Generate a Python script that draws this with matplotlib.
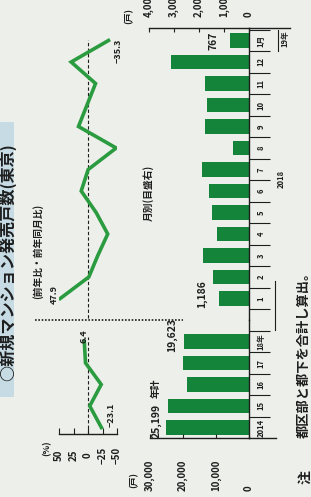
import matplotlib.pyplot as plt
from matplotlib.lines import Line2D
from matplotlib.patches import Rectangle
from matplotlib.transforms import blended_transform_factory

plt.rcParams['font.family'] = ['Noto Sans CJK JP', 'DejaVu Sans']
plt.rcParams['font.weight'] = 'bold'

W, H = 311, 497
GREEN = '#13843a'
LINE = '#2b9b40'
INK = '#1e1e1e'
PAPER = '#edefea'

# 年計(戸)と前年比(%)
years = ['2014', '15', '16', '17', '18年']
year_units = [25199, 24450, 18880, 19900, 19623]
year_pct = [-23.1, -3.0, -22.8, 4.3, 6.4]
# 月別(戸)と前年同月比(%)
months = ['1', '2', '3', '4', '5', '6', '7', '8', '9', '10', '11', '12', '1月']
month_units = [1186, 1450, 1830, 1290, 1470, 1590, 1870, 650, 1760, 1670, 1760, 3130, 767]
month_pct = [47.9, -1.4, -16.9, -34.0, -14.0, 11.7, -0.3, -48.6, 16.4, 1.7, -13.0, 29.0, -35.3]

year_ticks = [0, 10000, 20000, 30000]
month_ticks = [0, 1000, 2000, 3000, 4000]
pct_ticks = [50, 25, 0, -25, -50]

fig = plt.figure(figsize=(W / 100, H / 100), dpi=100)
fig.patch.set_facecolor(PAPER)


def fx(px):
    return px / W


def fy(py):
    return 1 - py / H


def slot(py):
    # the chart is printed turned on its side: 2014 sits on row 427.5, one slot every 21.5 px upward
    return (427.5 - py) / 21.5


def panel(x0, x1, top, bottom):
    ax = fig.add_axes([fx(x0), fy(bottom), (x1 - x0) / W, (bottom - top) / H])
    ax.set_facecolor('none')
    for s in ax.spines.values():
        s.set_visible(False)
        s.set_color(INK)
        s.set_linewidth(1.0)
    ax.set_xticks([])
    ax.set_yticks([])
    return ax


def vtext(px, py, s, size, **kw):
    fig.text(fx(px), fy(py), s, rotation=90, ha='center', va='center',
             size=size, color=INK, **kw)


yslots = list(range(len(years)))
mslots = [len(years) + 1 + i for i in range(len(months))]

# ---- annual bars
ax_y = panel(150, 249, 320, 438)
ax_y.set_xlim(30000, 0)
ax_y.set_ylim(slot(438), slot(320))
ax_y.barh(yslots, year_units, height=0.69, color=GREEN)
ax_y.spines['right'].set_visible(True)
ax_y.spines['bottom'].set_visible(True)
ax_y.set_xticks(year_ticks)
ax_y.tick_params(axis='x', direction='in', length=3, width=0.8, color=INK, labelbottom=False)
ax_y.plot([1, 1.27], [0, 0], transform=ax_y.transAxes, color=INK, lw=1.0, clip_on=False)
tr = blended_transform_factory(ax_y.transData, fig.transFigure)
for v in year_ticks:
    ax_y.text(v, fy(491), f'{v:,}', transform=tr, rotation=90, ha='center', va='bottom',
              size=7, color=INK)
ty = ax_y.get_yaxis_transform()
ax_y.hlines([s + 0.5 for s in yslots], 1, 1.21, transform=ty, color=INK, lw=0.8, clip_on=False)
for s, lab in zip(yslots, years):
    ax_y.text(1.12, s, lab, transform=ty, rotation=90, ha='center', va='center', size=5.5, color=INK)
ax_y.annotate(f'{year_units[0]:,}', (year_units[0], yslots[0]), xytext=(-9, 6.5),
              textcoords='offset pixels', rotation=90, ha='center', va='center', size=7.5, color=INK)
ax_y.annotate(f'{year_units[-1]:,}', (year_units[-1], yslots[-1]), xytext=(-12, 6.5),
              textcoords='offset pixels', rotation=90, ha='center', va='center', size=7.5, color=INK)

# ---- monthly bars (right scale, printed on top)
ax_m = panel(149, 249, 28, 320)
ax_m.set_xlim(4000, 0)
ax_m.set_ylim(slot(320), slot(28))
ax_m.barh(mslots, month_units, height=0.69, color=GREEN)
ax_m.spines['right'].set_visible(True)
ax_m.spines['top'].set_visible(True)
ax_m.set_xticks(month_ticks)
ax_m.tick_params(axis='x', direction='in', length=3, width=0.8, color=INK,
                 top=True, bottom=False, labelbottom=False)
ax_m.plot([1, 1.41], [1, 1], transform=ax_m.transAxes, color=INK, lw=1.0, clip_on=False)
trm = blended_transform_factory(ax_m.transData, fig.transFigure)
for v in month_ticks:
    ax_m.text(v, fy(17), f'{v:,}', transform=trm, rotation=90, ha='center', va='bottom',
              size=7, color=INK)
tm = ax_m.get_yaxis_transform()
ax_m.hlines([s - 0.5 for s in mslots] + [mslots[-1] + 0.5], 1, 1.21, transform=tm,
            color=INK, lw=0.8, clip_on=False)
for s, lab in zip(mslots, months):
    ax_m.text(1.12, s, lab, transform=tm, rotation=90, ha='center', va='center', size=5.5, color=INK)
ax_m.plot([1.29, 1.29], [mslots[-1] - 0.5, mslots[-1] + 0.5], transform=tm, color=INK,
          lw=0.8, clip_on=False)
ax_m.plot([1.26, 1.26], [slot(330), mslots[0] - 0.5 + 1.3], transform=tm, color=INK,
          lw=0.8, clip_on=False)
ax_m.annotate(f'{month_units[0]:,}', (month_units[0], mslots[0]), xytext=(-17, 4.5),
              textcoords='offset pixels', rotation=90, ha='center', va='center', size=7.5, color=INK)
ax_m.annotate(f'{month_units[-1]:,}', (month_units[-1], mslots[-1]), xytext=(-16, 0),
              textcoords='offset pixels', rotation=90, ha='center', va='center', size=7.5, color=INK)

# ---- change rates
ax_yp = panel(59, 117, 320, 434)
ax_yp.set_xlim(50, -50)
ax_yp.set_ylim(slot(434), slot(320))
ax_yp.spines['bottom'].set_visible(True)
ax_yp.set_xticks(pct_ticks)
ax_yp.tick_params(axis='x', direction='in', length=4, width=0.8, color=INK, labelbottom=False)
ax_yp.vlines(0, slot(434), slot(337), color=INK, lw=0.8, linestyles=(0, (3, 2)))
ax_yp.plot(year_pct, yslots, color=LINE, lw=2.6, solid_joinstyle='miter')
trp = blended_transform_factory(ax_yp.transData, fig.transFigure)
for v in pct_ticks:
    ax_yp.text(v, fy(455), f'{v}'.replace('-', '−'), transform=trp, rotation=90,
               ha='center', va='center', size=7, color=INK)
ax_yp.annotate(f'{year_pct[-1]}', (year_pct[-1], yslots[-1]), xytext=(0, 5),
               textcoords='offset pixels', rotation=90, ha='center', va='center', size=6.5, color=INK)
ax_yp.annotate(f'{year_pct[0]}'.replace('-', '−'), (year_pct[0], yslots[0]), xytext=(10, 12.5),
               textcoords='offset pixels', rotation=90, ha='center', va='center', size=6.5, color=INK)

ax_mp = panel(59, 117, 28, 320)
ax_mp.set_xlim(50, -50)
ax_mp.set_ylim(slot(320), slot(28))
ax_mp.vlines(0, slot(318), slot(40), color=INK, lw=0.8, linestyles=(0, (3, 2)))
ax_mp.plot(month_pct, mslots, color=LINE, lw=2.6, solid_joinstyle='miter')
ax_mp.annotate(f'{month_pct[0]}', (month_pct[0], mslots[0]), xytext=(-6, 3.5),
               textcoords='offset pixels', rotation=90, ha='center', va='center', size=6.5, color=INK)
ax_mp.annotate(f'{month_pct[-1]}'.replace('-', '−'), (month_pct[-1], mslots[-1]), xytext=(9.5, -10.5),
               textcoords='offset pixels', rotation=90, ha='center', va='center', size=6.5, color=INK)

# section separator
fig.add_artist(Line2D([fx(35), fx(183)], [fy(320), fy(320)], color=INK, lw=1.2,
                      linestyle=(0, (1, 1))))

# title and notes
fig.add_artist(Rectangle((0, fy(397)), fx(14), (397 - 122) / H, transform=fig.transFigure,
                         color='#c6dbe4', lw=0))
vtext(7.5, 262, '○新規マンション発売戸数(東京)', 11.6)
vtext(38, 251, '(前年比・前年同月比)', 7)
vtext(148, 193, '月別(目盛右)', 7)
vtext(156, 388, '年計', 7)
vtext(46.5, 448.5, '(%)', 6.5)
vtext(134, 480, '(戸)', 6.5)
vtext(129, 16.5, '(戸)', 6.5)
vtext(281, 179, '2018', 5.5)
vtext(285, 39, '19年', 5.5)
vtext(305, 477, '注', 10)
vtext(304, 352, '都区部と都下を合計し算出。', 9.5)

fig.savefig('out.png', dpi=100, facecolor=PAPER)
